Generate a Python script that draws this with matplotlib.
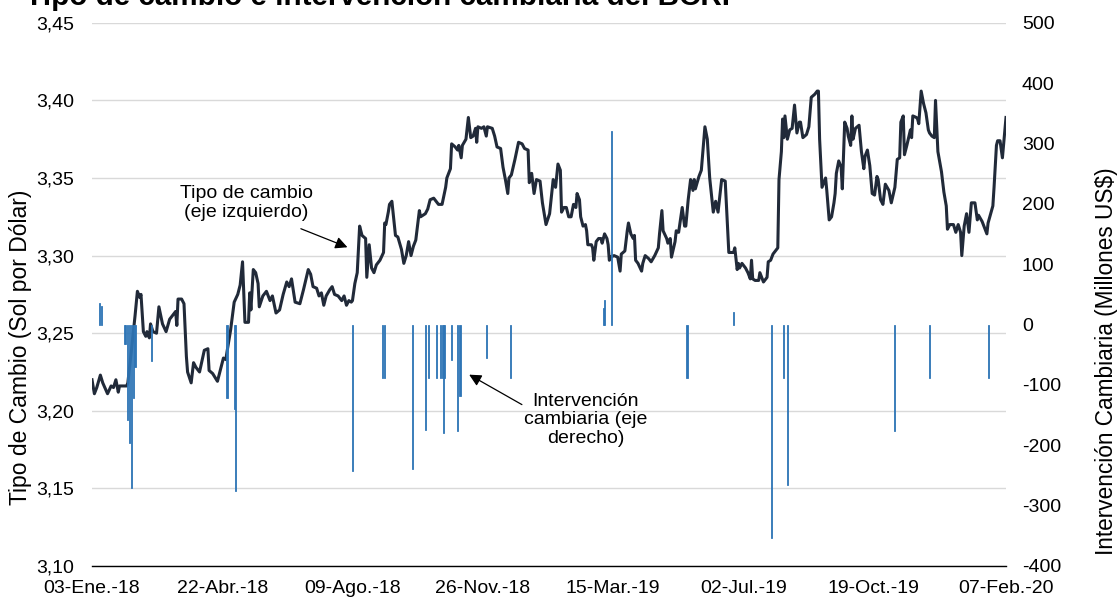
import numpy as np
import matplotlib
matplotlib.use("Agg")
import matplotlib.pyplot as plt

plt.rcParams['font.family'] = ['Liberation Sans', 'DejaVu Sans']

# ---------------- data ----------------
start_date = np.datetime64('2018-01-03')

# exchange rate (Sol por Dólar): days since 03-Ene-18, value
tc_days = [0,2,4,7,9,13,16,18,20,22,23,26,29,30,33,36,38,40,41,43,45,46,48,49,51,54,56,59,62,65,
           68,70,71,72,75,77,79,80,83,85,87,90,94,97,98,101,105,107,110,112,113,116,119,122,124,126,128,131,132,133,
           135,137,139,140,143,146,149,151,154,157,160,163,165,167,170,174,177,181,183,185,188,190,192,194,196,199,201,203,206,209,
           211,213,215,217,218,220,222,224,226,229,230,232,234,236,238,241,244,245,246,248,249,251,254,256,259,261,263,265,267,269,
           271,274,275,279,281,283,286,288,290,293,296,297,300,301,304,306,307,309,310,313,315,317,319,321,322,323,326,328,330,331,
           335,337,339,342,344,346,348,349,351,354,357,360,362,365,366,368,370,372,375,377,380,383,386,388,390,392,393,395,397,399,
           401,403,405,406,408,409,411,413,414,415,418,419,420,422,424,426,427,429,431,432,433,434,437,440,442,443,446,448,449,451,
           453,454,455,457,460,461,463,466,468,471,474,475,477,478,481,482,484,485,488,489,491,494,496,497,499,501,503,504,505,508,
           510,513,515,517,520,522,524,525,527,530,531,533,537,538,540,541,542,544,547,549,551,552,553,555,558,559,562,565,566,568,
           570,574,575,577,578,579,580,582,584,586,588,590,592,593,595,598,600,602,605,607,608,609,611,612,614,615,617,619,621,622,
           623,625,627,628,630,632,633,635,636,637,639,642,644,646,647,649,651,653,655,657,658,660,662,664,667,669,672,674,676,677,
           679,680,682,685,686,687,690,691,692,694,696,698,700,701,703,705,706,708,711,713,715,716,718,721,723,725,727,728,730,732,
           734,736,739,741,742,745,747,749,750,754,755,757,758,760,762,765]
tc_values = [3.220,3.211,3.215,3.223,3.218,3.211,3.216,3.215,3.220,3.212,3.216,3.216,3.216,3.218,3.239,3.261,3.277,3.273,3.275,3.251,
             3.248,3.251,3.247,3.256,3.251,3.250,3.267,3.256,3.251,3.259,3.262,3.264,3.255,3.272,3.272,3.269,3.235,3.225,3.218,3.231,
             3.228,3.225,3.239,3.240,3.226,3.224,3.219,3.225,3.234,3.233,3.238,3.252,3.270,3.275,3.281,3.296,3.257,3.257,3.276,3.265,
             3.291,3.289,3.282,3.267,3.274,3.277,3.271,3.274,3.263,3.265,3.275,3.283,3.280,3.285,3.270,3.269,3.278,3.291,3.288,3.280,
             3.279,3.274,3.276,3.268,3.274,3.278,3.280,3.275,3.274,3.271,3.274,3.268,3.271,3.270,3.271,3.282,3.289,3.319,3.313,3.311,
             3.286,3.307,3.292,3.289,3.294,3.297,3.302,3.321,3.320,3.328,3.333,3.335,3.313,3.312,3.304,3.295,3.300,3.309,3.300,3.306,
             3.310,3.329,3.325,3.327,3.330,3.336,3.337,3.335,3.333,3.333,3.344,3.350,3.356,3.372,3.370,3.368,3.371,3.363,3.371,3.375,
             3.389,3.376,3.377,3.382,3.373,3.383,3.382,3.383,3.377,3.383,3.382,3.377,3.370,3.369,3.357,3.349,3.340,3.350,3.352,3.362,
             3.373,3.372,3.369,3.368,3.347,3.353,3.340,3.349,3.348,3.334,3.320,3.327,3.349,3.344,3.359,3.355,3.328,3.331,3.331,3.325,
             3.325,3.333,3.331,3.340,3.336,3.325,3.319,3.320,3.316,3.307,3.307,3.305,3.297,3.309,3.311,3.311,3.308,3.314,3.311,3.307,
             3.297,3.299,3.300,3.299,3.290,3.301,3.303,3.316,3.321,3.314,3.311,3.313,3.297,3.295,3.290,3.295,3.300,3.298,3.296,3.300,
             3.305,3.314,3.329,3.316,3.311,3.308,3.311,3.299,3.309,3.316,3.315,3.331,3.319,3.319,3.336,3.349,3.342,3.349,3.343,3.351,
             3.355,3.383,3.375,3.350,3.328,3.335,3.328,3.335,3.349,3.348,3.333,3.302,3.302,3.305,3.291,3.295,3.292,3.295,3.292,3.289,
             3.285,3.297,3.285,3.284,3.284,3.289,3.283,3.286,3.296,3.297,3.301,3.305,3.349,3.367,3.388,3.376,3.390,3.375,3.381,3.382,
             3.397,3.379,3.386,3.386,3.376,3.378,3.383,3.402,3.404,3.406,3.406,3.375,3.344,3.346,3.350,3.342,3.323,3.325,3.334,3.340,
             3.353,3.361,3.357,3.343,3.386,3.382,3.377,3.371,3.390,3.375,3.382,3.384,3.367,3.356,3.364,3.368,3.358,3.340,3.339,3.351,
             3.349,3.336,3.333,3.346,3.342,3.334,3.344,3.362,3.363,3.386,3.390,3.365,3.371,3.381,3.376,3.390,3.389,3.388,3.385,3.406,
             3.398,3.392,3.381,3.379,3.377,3.376,3.400,3.367,3.354,3.341,3.332,3.317,3.320,3.320,3.315,3.320,3.315,3.300,3.319,3.327,
             3.315,3.334,3.334,3.323,3.326,3.322,3.318,3.314,3.321,3.332,3.344,3.371,3.374,3.374,3.363,3.389]

# FX intervention (millones US$): days since 03-Ene-18, value
iv_days = [6, 8, 27, 28, 30, 31, 33, 35, 36, 50, 113, 119, 120, 218, 243, 245, 268, 279, 282, 288,
           292, 293, 294, 295, 301, 306, 308, 330, 350, 428, 429, 435, 498, 537, 569, 579, 582, 672, 701, 750]
iv_values = [35, 30, -33, -33, -158, -197, -271, -122, -70, -61, -122, -140, -275, -242, -89, -89, -240, -175, -89, -89,
             -89, -89, -179, -89, -59, -177, -118, -56, -88, 27, 40, 321, -89, 21, -354, -88, -265, -177, -88, -89]

tick_days = [0, 109, 218, 327, 436, 545, 654, 765]
tick_labels = ['03-Ene.-18', '22-Abr.-18', '09-Ago.-18', '26-Nov.-18',
               '15-Mar.-19', '02-Jul.-19', '19-Oct.-19', '07-Feb.-20']
left_ticks = [3.10, 3.15, 3.20, 3.25, 3.30, 3.35, 3.40, 3.45]
right_ticks = [-400, -300, -200, -100, 0, 100, 200, 300, 400, 500]

title = 'Tipo de cambio e intervención cambiaria del BCRP'

# ---------------- figure ----------------
W, H = 1119, 599
fig = plt.figure(figsize=(W / 100, H / 100), dpi=100)
ax = fig.add_axes([92 / W, (H - 566) / H, 914 / W, 543.2 / H])
ax2 = ax.twinx()

tc_dates = start_date + np.array(tc_days).astype('timedelta64[D]')
iv_dates = start_date + np.array(iv_days).astype('timedelta64[D]')

ax.plot(tc_dates, tc_values, color='#212a39', lw=2.2, solid_joinstyle='round', zorder=3)
ax2.bar(iv_dates, iv_values, width=0.9, color='#2e75b6', edgecolor='#2e75b6',
        linewidth=0.6, zorder=3)

ax.set_xlim(start_date, start_date + np.timedelta64(765, 'D'))
ax.set_ylim(3.10, 3.45)
ax2.set_ylim(-400, 500)

ax.set_yticks(left_ticks)
ax.set_yticklabels([f"{v:.2f}".replace('.', ',') for v in left_ticks])
ax2.set_yticks(right_ticks)
ax2.set_yticklabels([str(v) for v in right_ticks])
ax.set_xticks(start_date + np.array(tick_days).astype('timedelta64[D]'))
ax.set_xticklabels(tick_labels)

ax.grid(axis='y', color='#d9d9d9', lw=1.0)
ax.set_axisbelow(True)
for a in (ax, ax2):
    for s in ('top', 'left', 'right', 'bottom'):
        a.spines[s].set_visible(False)
ax.spines['bottom'].set_visible(True)
ax.spines['bottom'].set_color('#000000')
ax.spines['bottom'].set_linewidth(1.0)
ax.spines['bottom'].set_zorder(5)

ax.tick_params(axis='y', length=0, pad=13, labelsize=14, colors='#000000')
ax.tick_params(axis='x', length=0, pad=10, labelsize=14, colors='#000000')
ax2.tick_params(axis='y', length=0, pad=11.5, labelsize=14, colors='#000000')

# axis labels
fig.text(21 / W, 1 - 347 / H, 'Tipo de Cambio (Sol por Dólar)', rotation=90,
         ha='center', va='center', fontsize=16.5)
fig.text(1106 / W, 1 - 361 / H, 'Intervención Cambiaria (Millones US$)', rotation=90,
         ha='center', va='center', fontsize=16.3)

# title (partly cut at the top)
fig.text(25 / W, 1 - 5 / H, title, ha='left', va='baseline', fontsize=21.3, fontweight='bold')

# annotations
arrowprops = dict(arrowstyle='-|>', color='#000000', lw=0.9, mutation_scale=18)
ax.annotate('', xy=(0.2823, 0.5849), xytext=(0.2257, 0.6228),
            xycoords='axes fraction', textcoords='axes fraction', arrowprops=arrowprops, zorder=6)
ax.text(0.1685, 0.6680, 'Tipo de cambio\n(eje izquierdo)', transform=ax.transAxes,
        ha='center', va='center', multialignment='center', fontsize=14, zorder=6)
ax.annotate('', xy=(0.4100, 0.3548), xytext=(0.4730, 0.2946),
            xycoords='axes fraction', textcoords='axes fraction', arrowprops=arrowprops, zorder=6)
ax.text(0.5401, 0.2688, 'Intervención\ncambiaria (eje\nderecho)', transform=ax.transAxes,
        ha='center', va='center', multialignment='center', fontsize=14, linespacing=1.15, zorder=6)

fig.savefig('out.png', dpi=100)
